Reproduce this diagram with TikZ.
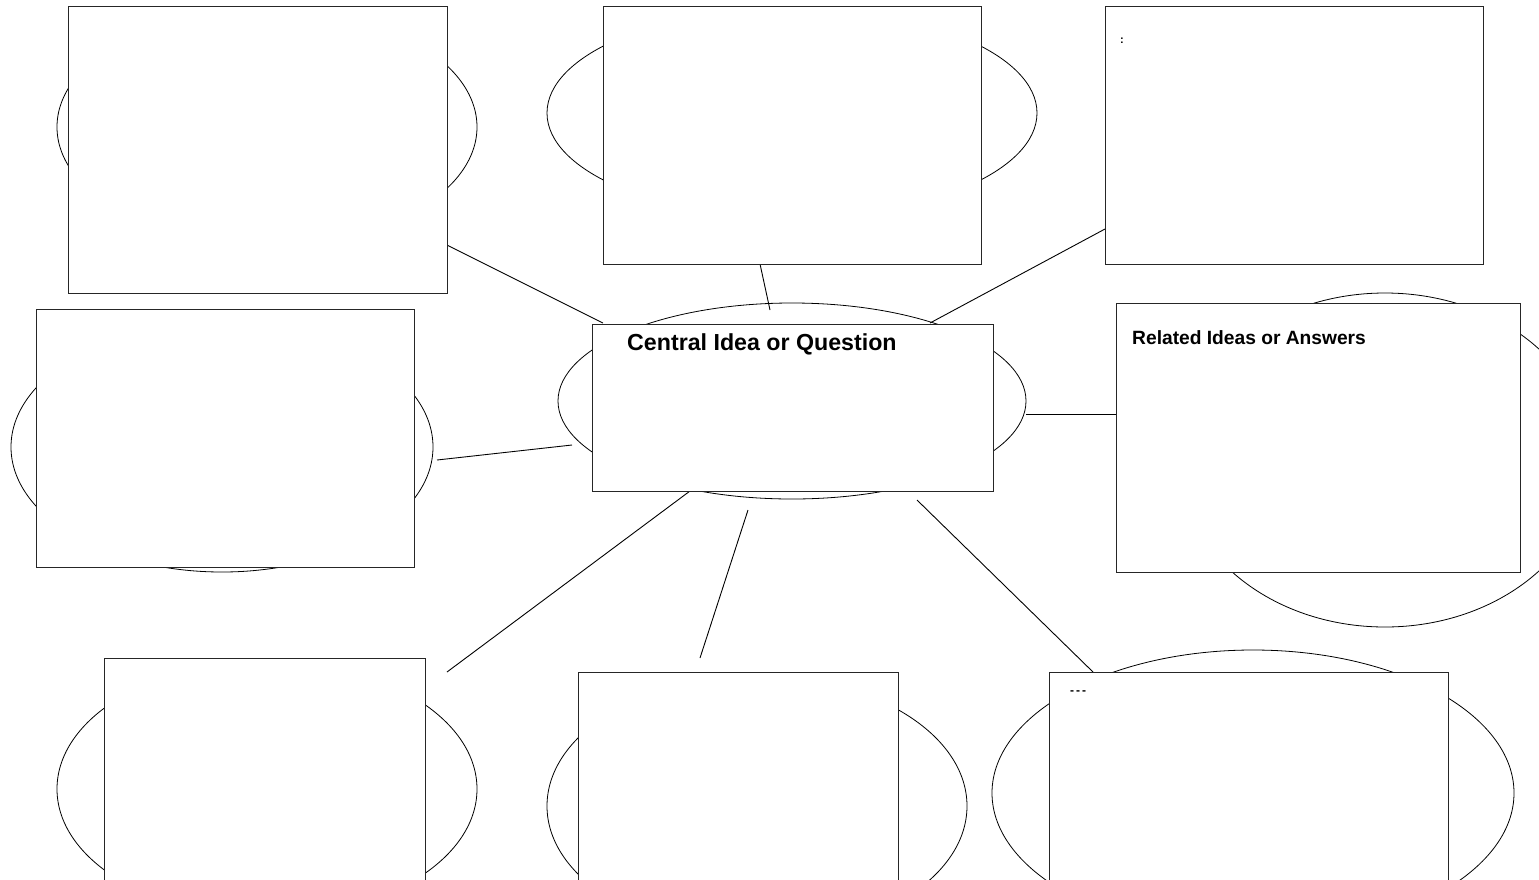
\documentclass[tikz,border=0pt]{standalone}
\usepackage{fontspec}
\setmainfont{Liberation Sans}
\usetikzlibrary{shapes.geometric}
\begin{document}
\begin{tikzpicture}[x=1pt,y=-1pt,
  card/.style={draw=black!85, line width=1.2pt, fill=white, inner sep=0pt, anchor=north west},
  halo/.style={draw=black, line width=0.8pt, ellipse, inner sep=0pt},
  link/.style={draw=black, line width=0.9pt},
  heading/.style={font=\bfseries\fontsize{23.2}{26}\selectfont, anchor=base west, inner sep=0pt, text=black},
  subheading/.style={font=\bfseries\fontsize{19.2}{21}\selectfont, anchor=base west, inner sep=0pt, text=black},
  tiny/.style={inner sep=0pt, text=black}
]
\useasboundingbox (0,0) rectangle (1539,879);
\clip (0,0) rectangle (1539,879);

% ellipses behind the boxes
\node[halo, minimum width=420pt, minimum height=238pt] (etl) at (267,127) {};
\node[halo, minimum width=490pt, minimum height=210pt] (etm) at (792,113) {};
\node[halo, minimum width=468pt, minimum height=196pt] (ectr) at (792,401) {};
\node[halo, minimum width=412pt, minimum height=334pt] (erel) at (1385,460) {};
\node[halo, minimum width=422pt, minimum height=250pt] (eml) at (222,447) {};
\node[halo, minimum width=420pt, minimum height=256pt] (ebl) at (267,789) {};
\node[halo, minimum width=420pt, minimum height=260pt] (ebm) at (757,806) {};
\node[halo, minimum width=522pt, minimum height=286pt] (ebr) at (1253,793) {};

% connector end points
\coordinate (a1) at (447,245); \coordinate (b1) at (603,323);
\coordinate (a2) at (760,264); \coordinate (b2) at (770,310);
\coordinate (a3) at (1105,229); \coordinate (b3) at (930,323);
\coordinate (a4) at (437,460); \coordinate (b4) at (572,445);
\coordinate (a5) at (1026,414); \coordinate (b5) at (1116,414);
\coordinate (a6) at (690,491); \coordinate (b6) at (447,672);
\coordinate (a7) at (748,510); \coordinate (b7) at (700,658);
\coordinate (a8) at (917,500); \coordinate (b8) at (1093,672);

\draw[link] (a1) -- (b1);
\draw[link] (a2) -- (b2);
\draw[link] (a3) -- (b3);
\draw[link] (a4) -- (b4);
\draw[link] (a5) -- (b5);
\draw[link] (a6) -- (b6);
\draw[link] (a7) -- (b7);
\draw[link] (a8) -- (b8);

% boxes
\node[card, minimum width=379pt, minimum height=287pt] (tl) at (68,6) {};
\node[card, minimum width=378pt, minimum height=258pt] (tm) at (603,6) {};
\node[card, minimum width=378pt, minimum height=258pt] (tr) at (1105,6) {};
\node[card, minimum width=378pt, minimum height=258pt] (ml) at (36,309) {};
\node[card, minimum width=401pt, minimum height=167pt] (ctr) at (592,324) {};
\node[card, minimum width=404pt, minimum height=269pt] (rel) at (1116,303) {};
\node[card, minimum width=321pt, minimum height=240pt] (bl) at (104,658) {};
\node[card, minimum width=320pt, minimum height=230pt] (bm) at (578,672) {};
\node[card, minimum width=399pt, minimum height=230pt] (br) at (1049,672) {};

% texts
\node[heading] (ctrtext) at (627,350) {Central Idea or Question};
\node[subheading] (reltext) at (1132,344) {Related Ideas or Answers};
\node[tiny, font=\bfseries\fontsize{11}{12}\selectfont] (trtext) at (1122,41) {:};
\node[tiny, font=\bfseries\fontsize{12}{13}\selectfont] (brtext) at (1078,693) {-\hspace{2pt}-\hspace{2pt}-};
\end{tikzpicture}
\end{document}
